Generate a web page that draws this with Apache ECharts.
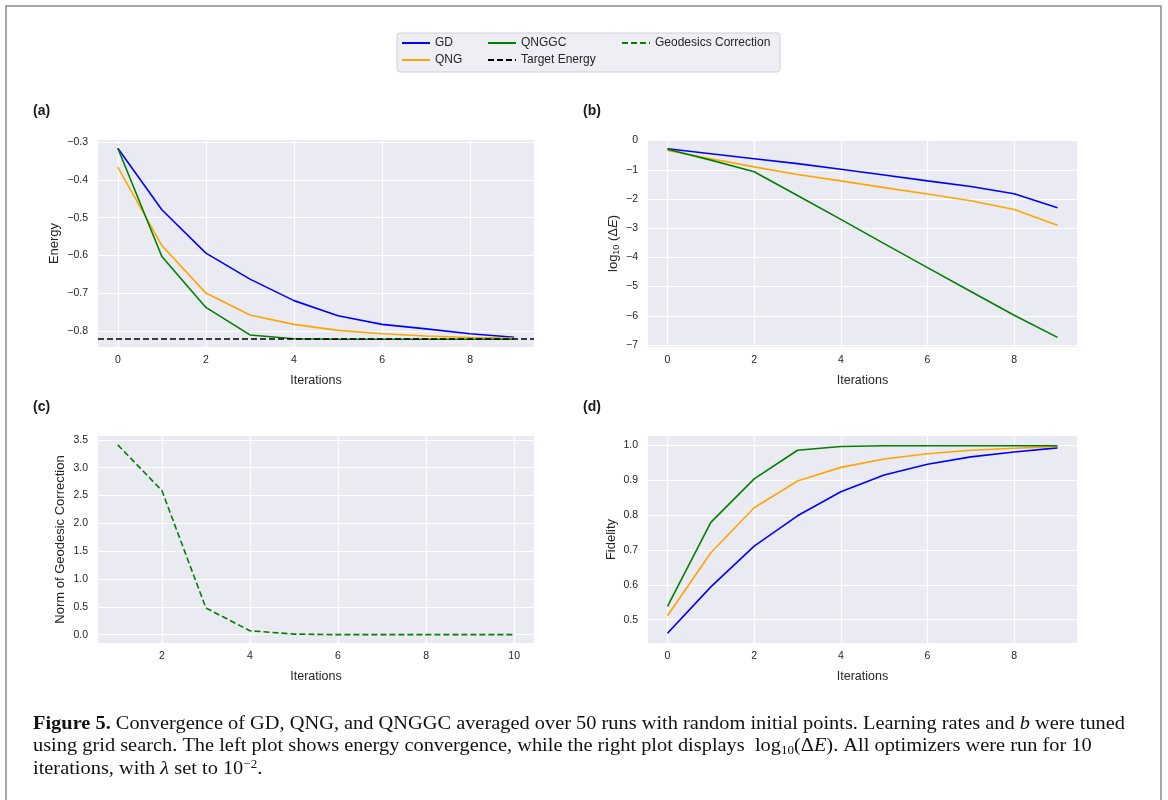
<!DOCTYPE html>
<html lang="en">
<head>
    <meta charset="UTF-8">
    <title>Figure 5 - convergence of GD, QNG and QNGGC</title>
    <script src="https://cdn.jsdelivr.net/npm/echarts@6/dist/echarts.min.js"></script>
    <style>
        html, body { margin: 0; padding: 0; background: #fff; }
        #chart { width: 1168px; height: 800px; }
    </style>
</head>
<body>
<div id="chart"></div>
<script>

  // iterations (panels a, b, d) and (panel c)
  var iters = [0, 1, 2, 3, 4, 5, 6, 7, 8, 9];
  var itersGeo = [1, 2, 3, 4, 5, 6, 7, 8, 9, 10];

  // (a) energy
  var energyGD = [-0.316, -0.479, -0.594, -0.663, -0.720, -0.760, -0.783, -0.795, -0.808, -0.817];
  var energyQNG = [-0.366, -0.574, -0.700, -0.758, -0.783, -0.799, -0.808, -0.814, -0.818, -0.820];
  var energyQNGGC = [-0.316, -0.603, -0.738, -0.811, -0.821, -0.8225, -0.8225, -0.8225, -0.8225, -0.8225];
  var targetEnergy = -0.8226;

  // (b) log10(dE)
  var logGD = [-0.28, -0.45, -0.62, -0.79, -0.98, -1.18, -1.38, -1.57, -1.82, -2.30];
  var logQNG = [-0.34, -0.62, -0.90, -1.16, -1.38, -1.61, -1.83, -2.06, -2.36, -2.90];
  var logQNGGC = [-0.30, -0.67, -1.07, -1.88, -2.70, -3.53, -4.35, -5.17, -5.98, -6.74];

  // (c) norm of geodesic correction
  var geoNorm = [3.41, 2.59, 0.48, 0.07, 0.01, 0, 0, 0, 0, 0];

  // (d) fidelity
  var fidGD = [0.461, 0.594, 0.711, 0.798, 0.867, 0.915, 0.946, 0.967, 0.981, 0.993];
  var fidQNG = [0.511, 0.692, 0.821, 0.898, 0.937, 0.961, 0.976, 0.986, 0.992, 0.997];
  var fidQNGGC = [0.538, 0.779, 0.904, 0.986, 0.997, 0.999, 0.999, 0.999, 0.999, 0.999];

  var BLUE = '#0000ff', ORANGE = '#ffa500', GREEN = '#008000';
  var TXT = '#262626';
  var SANS = '"Liberation Sans", Arial, sans-serif';
  var SERIF = '"Liberation Serif", "Times New Roman", serif';

  var myChart = echarts.init(document.getElementById('chart'));

  function pairs(xs, ys) {
    return xs.map(function (x, i) { return [x, ys[i]]; });
  }

  // label only the "nice" ticks, hide the extent ends
  function tickFormatter(step, digits) {
    return function (v) {
      var k = v / step;
      if (Math.abs(k - Math.round(k)) > 1e-6) {
        return '';
      }
      return v.toFixed(digits).replace('-', '\u2212');
    };
  }

  function xAxis(grid, min, max) {
    return {
      gridIndex: grid, type: 'value', min: min, max: max,
      splitNumber: 5, minInterval: 2, maxInterval: 2,
      axisLine: { show: false }, axisTick: { show: false },
      axisLabel: { color: TXT, fontSize: 10.5, fontFamily: SANS, margin: 8, formatter: tickFormatter(2, 0) },
      splitLine: { showMinLine: false, showMaxLine: false, lineStyle: { color: '#ffffff', width: 1.2 } },
      name: 'Iterations', nameLocation: 'middle', nameGap: 27,
      nameTextStyle: { color: TXT, fontSize: 12.5, fontFamily: SANS }
    };
  }

  function yAxis(grid, min, max, step, digits, name, gap) {
    return {
      gridIndex: grid, type: 'value', min: min, max: max,
      splitNumber: 6, minInterval: step, maxInterval: step,
      axisLine: { show: false }, axisTick: { show: false },
      axisLabel: { color: TXT, fontSize: 10.5, fontFamily: SANS, margin: 10, formatter: tickFormatter(step, digits) },
      splitLine: { showMinLine: false, showMaxLine: false, lineStyle: { color: '#ffffff', width: 1.2 } },
      name: name, nameLocation: 'middle', nameGap: gap, nameRotate: 90,
      nameTextStyle: {
        color: TXT, fontSize: 13, fontFamily: SANS,
        rich: {
          a: { fontSize: 13, fontFamily: SANS, color: TXT },
          s: { fontSize: 9, fontFamily: SANS, color: TXT, padding: [6, 0, 0, 0] },
          i: { fontSize: 13, fontFamily: SANS, color: TXT, fontStyle: 'italic' }
        }
      }
    };
  }

  function line(name, grid, xs, ys, color, dashed) {
    return {
      name: name, type: 'line', xAxisIndex: grid, yAxisIndex: grid,
      data: pairs(xs, ys), showSymbol: false, symbol: 'none', silent: true,
      color: color,
      lineStyle: { color: color, width: 1.6, type: dashed ? [6, 3] : 'solid' }
    };
  }

  function legendItem(name, left, top) {
    return {
      data: [name], left: left, top: top, padding: 0,
      itemWidth: 28, itemHeight: 12, selectedMode: false,
      itemStyle: { opacity: 0 },
      textStyle: { color: TXT, fontSize: 12, fontFamily: SANS }
    };
  }

  function panelLabel(text, x, y) {
    return {
      type: 'text', left: x, top: y,
      style: { text: text, font: 'bold 14px ' + SANS, fill: '#1a1a1a' }
    };
  }

  function captionLine(text, y) {
    return {
      type: 'text', left: 33, top: y, scaleX: 1.045,
      style: {
        text: text,
        rich: {
          b: { font: 'bold 19.5px ' + SERIF, fill: '#111', lineHeight: 22 },
          r: { font: '19.5px ' + SERIF, fill: '#111', lineHeight: 22 },
          i: { font: 'italic 19.5px ' + SERIF, fill: '#111', lineHeight: 22 },
          sub: { font: '12.5px ' + SERIF, fill: '#111', lineHeight: 22, verticalAlign: 'bottom', padding: [8, 0, 0, 0] },
          sup: { font: '12.5px ' + SERIF, fill: '#111', lineHeight: 14, verticalAlign: 'top' }
        }
      }
    };
  }

  var grids = [
    { left: 98, top: 140, width: 436, height: 207 },
    { left: 648, top: 140, width: 429, height: 207 },
    { left: 98, top: 436, width: 436, height: 207 },
    { left: 648, top: 436, width: 429, height: 207 }
  ].map(function (g) {
    g.show = true;
    g.backgroundColor = '#eaeaf2';
    g.borderWidth = 0;
    return g;
  });

  var targetSeries = {
    name: 'Target Energy', type: 'line', xAxisIndex: 0, yAxisIndex: 0,
    data: [], symbol: 'none', color: '#000000', silent: true,
    lineStyle: { color: '#000000', width: 1.6, type: [6, 3] },
    markLine: {
      symbol: 'none', silent: true, label: { show: false },
      lineStyle: { color: '#000000', width: 1.6, type: [6, 3] },
      emphasis: { disabled: true },
      data: [{ yAxis: targetEnergy }]
    }
  };

  myChart.setOption({
    animation: false,
    grid: grids,
    xAxis: [
      xAxis(0, -0.45, 9.45),
      xAxis(1, -0.45, 9.45),
      xAxis(2, 0.55, 10.45),
      xAxis(3, -0.45, 9.45)
    ],
    yAxis: [
      yAxis(0, -0.843, -0.294, 0.1, 1, 'Energy', 37),
      yAxis(1, -7.07, 0.02, 1, 0, '{a|log}{s|10}{a| (Δ}{i|E}{a|)}', 27),
      yAxis(2, -0.15, 3.57, 0.5, 1, 'Norm of Geodesic Correction', 31),
      yAxis(3, 0.433, 1.027, 0.1, 1, 'Fidelity', 30)
    ],
    legend: [
      legendItem('GD', 401, 37),
      legendItem('QNG', 401, 54),
      legendItem('QNGGC', 487, 37),
      legendItem('Target Energy', 487, 54),
      legendItem('Geodesics Correction', 621, 37)
    ],
    graphic: [
      {
        type: 'rect', z: -10, silent: true,
        shape: { x: 6, y: 6, width: 1155, height: 820 },
        style: { fill: '#ffffff', stroke: '#8c8c8c', lineWidth: 1.5 }
      },
      {
        type: 'rect', z: 0, silent: true,
        shape: { x: 397, y: 33, width: 383, height: 39, r: 3 },
        style: { fill: '#eeeef4', stroke: '#cfcfd6', lineWidth: 1 }
      },
      panelLabel('(a)', 33, 104),
      panelLabel('(b)', 583, 104),
      panelLabel('(c)', 33, 400),
      panelLabel('(d)', 583, 400),
      captionLine('{b|Figure 5.}{r| Convergence of GD, QNG, and QNGGC averaged over 50 runs with random initial points. Learning rates and }{i|b}{r| were tuned}', 714),
      captionLine('{r|using grid search. The left plot shows energy convergence, while the right plot displays  log}{sub|10}{r|(Δ}{i|E}{r|). All optimizers were run for 10}', 736),
      captionLine('{r|iterations, with }{i|λ}{r| set to 10}{sup|−2}{r|.}', 758)
    ],
    series: [
      line('GD', 0, iters, energyGD, BLUE),
      line('QNG', 0, iters, energyQNG, ORANGE),
      line('QNGGC', 0, iters, energyQNGGC, GREEN),
      targetSeries,
      line('GD', 1, iters, logGD, BLUE),
      line('QNG', 1, iters, logQNG, ORANGE),
      line('QNGGC', 1, iters, logQNGGC, GREEN),
      line('Geodesics Correction', 2, itersGeo, geoNorm, GREEN, true),
      line('GD', 3, iters, fidGD, BLUE),
      line('QNG', 3, iters, fidQNG, ORANGE),
      line('QNGGC', 3, iters, fidQNGGC, GREEN)
    ]
  });
</script>
</body>
</html>
